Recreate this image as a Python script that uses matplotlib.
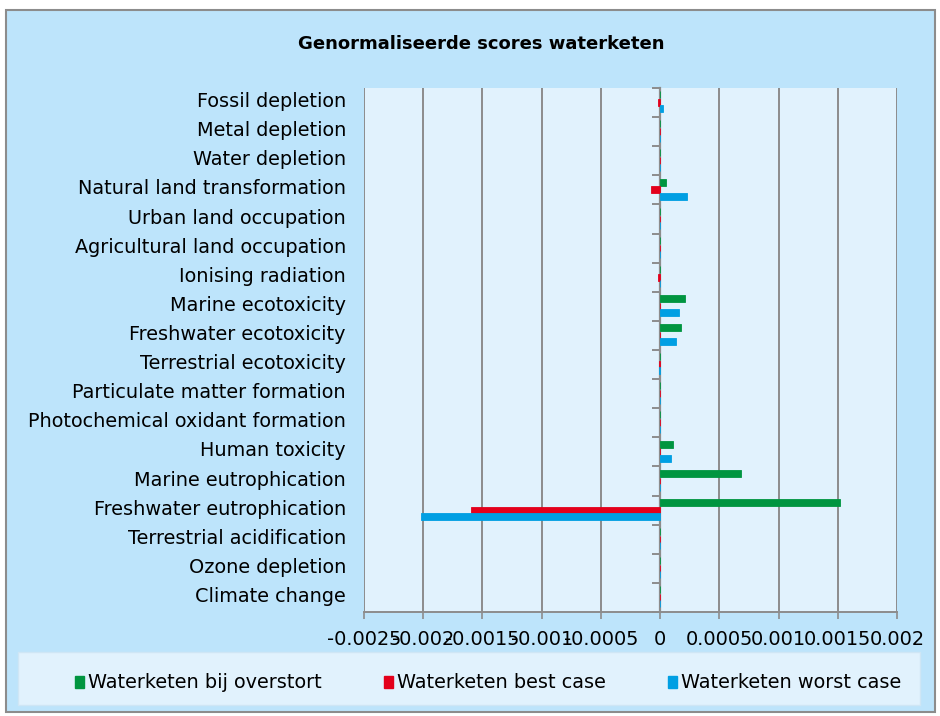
import numpy as np
import matplotlib
matplotlib.use("Agg")
import matplotlib.pyplot as plt
import matplotlib.transforms as mtransforms
from matplotlib.patches import Rectangle, Patch

# Categories top to bottom, as shown in the chart
categories = ['Fossil depletion', 'Metal depletion', 'Water depletion',
              'Natural land transformation', 'Urban land occupation',
              'Agricultural land occupation', 'Ionising radiation',
              'Marine ecotoxicity', 'Freshwater ecotoxicity',
              'Terrestrial ecotoxicity', 'Particulate matter formation',
              'Photochemical oxidant formation', 'Human toxicity',
              'Marine eutrophication', 'Freshwater eutrophication',
              'Terrestrial acidification', 'Ozone depletion', 'Climate change']

overstort = [0.0, 0.0, 0.0, 0.00005, 0.0, 0.0, 0.0, 0.00021, 0.00018, 0.0,
             0.0, 0.0, 0.00011, 0.00068, 0.00152, 0.0, 0.0, 0.0]
best_case = [-0.000015, 0.0, 0.0, -0.000073, 0.0, 0.0, -0.000015, 0.0, 0.0,
             -0.00001, 0.0, 0.0, 0.0, 0.0, -0.0016, 0.0, 0.0, 0.0]
worst_case = [0.000028, 0.0, 0.0, 0.00023, 0.0, 0.0, 0.0, 0.00016, 0.000135,
              -0.00001, 0.0, 0.0, 0.00009, 0.0, -0.00202, 0.0, 0.0, 0.0]

series_names = ['Waterketen bij overstort', 'Waterketen best case', 'Waterketen worst case']
colors = ['#009540', '#E3001B', '#009FE3']

xticks = [-0.0025, -0.002, -0.0015, -0.001, -0.0005, 0, 0.0005, 0.001, 0.0015, 0.002]
xtick_labels = ['-0.0025', '-0.002', '-0.0015', '-0.001', '-0.0005', '0',
                '0.0005', '0.001', '0.0015', '0.002']

W, H = 940, 716
fig = plt.figure(figsize=(W / 100, H / 100), dpi=100)
fig.patch.set_facecolor('white')

# chart area background
fig.add_artist(Rectangle((6 / W, 1 - 712 / H), 929 / W, 702 / H, transform=fig.transFigure,
                         facecolor='#BDE4FB', edgecolor='#8C8C8C', linewidth=1.5, zorder=0))
# legend box
fig.add_artist(Rectangle((18 / W, 1 - 705 / H), 902 / W, 53 / H, transform=fig.transFigure,
                         facecolor='#E1F2FD', edgecolor='#CFE6F5', linewidth=1, zorder=1))

ax = fig.add_axes([364 / W, 1 - 612 / H, 533 / W, 524 / H])
ax.set_facecolor('#E1F2FD')

n = len(categories)
y = np.arange(n)[::-1]
h = 0.24
for vals, off, c in zip([overstort, best_case, worst_case], [0.27, 0.0, -0.22], colors):
    ax.barh(y + off, vals, height=h, color=c, edgecolor=c, linewidth=0.6, zorder=3)

ax.set_xlim(-0.0025, 0.002)
ax.set_ylim(-0.5, n - 0.5)
ax.set_xticks(xticks)
ax.set_xticklabels(xtick_labels, fontsize=13.9)
ax.grid(axis='x', color='#8C8C8C', linewidth=1.4, zorder=1)
ax.tick_params(axis='x', length=5, width=1.2, color='#8C8C8C', pad=8)

ax.set_yticks(y)
ax.set_yticklabels(categories, fontsize=13.9)
ax.tick_params(axis='y', length=0, pad=13)
# nudge category labels up a little
shift = mtransforms.ScaledTranslation(0, 3 / 100, fig.dpi_scale_trans)
for lbl in ax.get_yticklabels():
    lbl.set_transform(lbl.get_transform() + shift)

for side in ['top', 'left', 'right']:
    ax.spines[side].set_visible(False)
ax.spines['bottom'].set_color('#8C8C8C')
ax.spines['bottom'].set_linewidth(1.4)

# vertical axis crossing at 0 with category boundary ticks
zero_pos = (0 - (-0.0025)) / 0.0045
sec = ax.secondary_yaxis(zero_pos)
sec.set_yticks(np.arange(n + 1) - 0.5)
sec.set_yticklabels([])
sec.tick_params(length=6, width=1.4, color='#8C8C8C', direction='in')
for s in sec.spines.values():
    s.set_color('#8C8C8C')
    s.set_linewidth(1.6)

fig.text(481 / W, 1 - 44 / H, 'Genormaliseerde scores waterketen',
         ha='center', va='center', fontsize=13, fontweight='bold')

handles = [Patch(facecolor=c, edgecolor=c) for c in colors]
fig.legend(handles, series_names, loc='center', bbox_to_anchor=(488 / W, 1 - 683 / H),
           ncol=3, frameon=False, fontsize=13.9, handlelength=0.5, handleheight=0.6,
           handletextpad=0.2, columnspacing=3.2)

fig.savefig('out.png', dpi=100)
